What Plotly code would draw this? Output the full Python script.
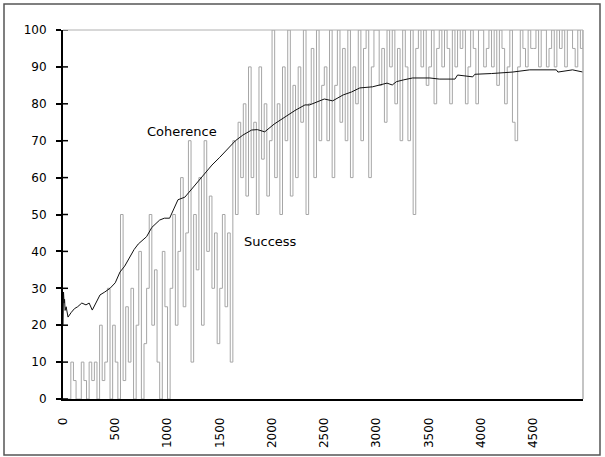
import plotly.graph_objects as go

# ---- data ----
success_x = list(range(0, 5000, 25))
success_y = [
    0, 0, 0, 10, 5, 0, 0, 10, 5, 0, 10, 5, 10, 0, 20, 5, 10, 30, 0, 20,
    10, 0, 50, 5, 25, 10, 30, 0, 20, 40, 0, 15, 30, 50, 20, 35, 10, 0, 40, 25,
    0, 30, 50, 20, 40, 60, 25, 45, 70, 10, 50, 35, 60, 20, 70, 40, 55, 30, 45, 15,
    30, 50, 25, 45, 10, 70, 50, 75, 60, 80, 55, 90, 60, 75, 50, 90, 65, 80, 55, 70,
    100, 60, 80, 50, 90, 70, 100, 55, 85, 60, 90, 75, 100, 50, 80, 95, 60, 100, 70, 85,
    90, 70, 100, 60, 85, 100, 75, 95, 70, 100, 60, 90, 80, 100, 70, 95, 100, 60, 90, 100,
    100, 85, 95, 75, 100, 90, 100, 80, 95, 70, 100, 90, 70, 100, 50, 95, 100, 90, 100, 85,
    90, 100, 80, 95, 100, 90, 100, 95, 80, 100, 90, 100, 95, 100, 80, 90, 100, 95, 80, 100,
    100, 90, 95, 100, 90, 100, 85, 100, 95, 80, 90, 100, 75, 70, 90, 100, 95, 90, 100, 95,
    95, 100, 90, 100, 100, 90, 95, 100, 90, 100, 95, 100, 90, 100, 100, 95, 90, 100, 95, 100,
]

coherence_x = [0, 5, 10, 15, 20, 30, 48, 80, 110, 140, 180, 220, 250, 280, 320, 354,
               400, 450, 500, 545, 590, 640, 680, 720, 760, 800, 850, 900, 925, 970,
               1020, 1060, 1100, 1166, 1250, 1340, 1425, 1500, 1580, 1650, 1720, 1805,
               1860, 1930, 2020, 2120, 2220, 2315, 2360, 2430, 2500, 2580, 2680, 2760,
               2840, 2960, 3100, 3150, 3190, 3260, 3345, 3510, 3600, 3750, 3775, 3920,
               3940, 4100, 4300, 4465, 4720, 4735, 4875, 4975]
coherence_y = [20, 29, 26, 27, 24, 25, 22.2, 23.5, 24.5, 25, 26, 25.5, 26, 24.1, 26.5, 28.2,
               29, 30, 31.5, 34.4, 36, 38.5, 40.5, 42, 43, 44, 46.5, 48, 48.5, 49,
               49, 51.5, 54, 54.7, 57.5, 60.5, 63.4, 65.5, 68, 70, 71.5, 72.9,
               73, 72.4, 74.5, 76.4, 78.2, 79.7, 79.7, 80.5, 81.3, 80.8, 82.4, 83.2,
               84.3, 84.6, 85.6, 85.1, 86, 86.5, 87, 87, 86.7, 86.7, 87.8, 87.3,
               88, 88.2, 88.6, 89.2, 89.2, 88.6, 89.2, 88.6]

y_ticks = [0, 10, 20, 30, 40, 50, 60, 70, 80, 90, 100]
x_ticks = [0, 500, 1000, 1500, 2000, 2500, 3000, 3500, 4000, 4500]

fig = go.Figure()
fig.add_trace(go.Scatter(x=success_x, y=success_y, mode="lines",
                         line=dict(color="#a6a6a6", width=1, shape="hv"), name="Success",
                         showlegend=False))
fig.add_trace(go.Scatter(x=coherence_x, y=coherence_y, mode="lines",
                         line=dict(color="#111111", width=1), name="Coherence",
                         showlegend=False))

font_ticks = dict(family="DejaVu Sans", size=12, color="#000000")

fig.update_layout(
    width=605, height=457,
    margin=dict(l=63, r=22, t=30, b=58),
    paper_bgcolor="white", plot_bgcolor="white",
    xaxis=dict(range=[0, 4975], tickvals=x_ticks, ticktext=[str(v) for v in x_ticks],
               tickangle=-90, showgrid=False, zeroline=False, showline=True,
               linecolor="#000000", linewidth=1.5, ticks="", tickfont=font_ticks,
               ticklabelstandoff=12, automargin=False),
    yaxis=dict(range=[0, 100], tickvals=y_ticks, ticktext=[str(v) for v in y_ticks],
               showgrid=False, zeroline=False, showline=True, linecolor="#000000",
               linewidth=2, ticks="outside", ticklen=5, tickwidth=1.5,
               tickcolor="#000000", tickfont=font_ticks, ticklabelstandoff=7,
               automargin=False),
)

shapes = []
# inner half of crossing ticks
for v in y_ticks:
    shapes.append(dict(type="line", xref="paper", yref="y", x0=0, x1=5 / 520, y0=v, y1=v,
                       line=dict(color="#000000", width=1.5)))
# gray frame top & right
shapes.append(dict(type="line", xref="paper", yref="paper", x0=0, x1=1, y0=1, y1=1,
                   line=dict(color="#b0b0b0", width=1)))
shapes.append(dict(type="line", xref="paper", yref="paper", x0=1, x1=1, y0=0, y1=1,
                   line=dict(color="#b0b0b0", width=1.5)))
# outer border
shapes.append(dict(type="rect", xref="paper", yref="paper",
                   x0=(4 - 63) / 520, x1=(600 - 63) / 520,
                   y0=(399 - 455) / 369, y1=(399 - 4) / 369,
                   line=dict(color="#555555", width=1.5)))
fig.update_layout(shapes=shapes)

fig.add_annotation(x=1138, y=72.6, text="Coherence", showarrow=False,
                   font=dict(family="DejaVu Sans", size=13, color="#000000"))
fig.add_annotation(x=1989, y=42.8, text="Success", showarrow=False,
                   font=dict(family="DejaVu Sans", size=13, color="#000000"))

fig.write_html("out.html", config={"displayModeBar": False},
               post_script="document.body.style.margin='0';document.body.style.overflow='hidden';")
